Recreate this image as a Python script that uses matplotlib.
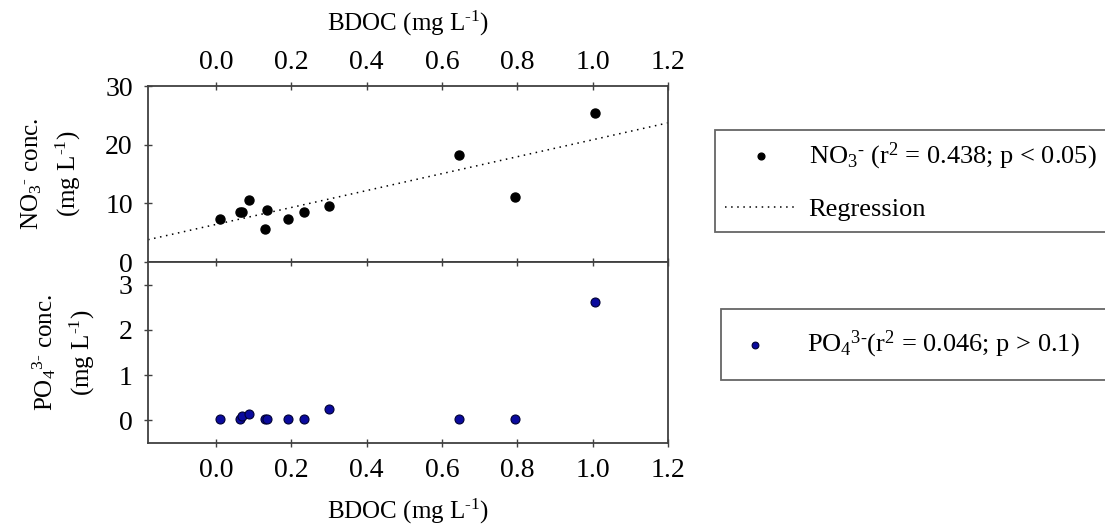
import numpy as np
import matplotlib
matplotlib.use("Agg")
import matplotlib.pyplot as plt

plt.rcParams["font.family"] = ["Liberation Serif", "DejaVu Serif"]
plt.rcParams["mathtext.fontset"] = "custom"
plt.rcParams["mathtext.rm"] = "Liberation Serif"
plt.rcParams["mathtext.it"] = "Liberation Serif"
plt.rcParams["mathtext.default"] = "regular"

# Data (BDOC in mg/L)
bdoc = [0.012, 0.064, 0.068, 0.087, 0.129, 0.136, 0.191, 0.234, 0.299, 0.644, 0.793, 1.005]
no3 = [7.3, 8.6, 8.5, 10.6, 5.6, 8.8, 7.4, 8.5, 9.6, 18.3, 11.1, 25.4]
po4 = [0.02, 0.02, 0.09, 0.13, 0.02, 0.02, 0.02, 0.02, 0.26, 0.02, 0.02, 2.62]

xticks = [0.0, 0.2, 0.4, 0.6, 0.8, 1.0, 1.2]
no3_ticks = [0, 10, 20, 30]
po4_ticks = [0, 1, 2, 3]

HY = "\u2010"  # short hyphen used in the superscripts
no3_label = "NO$_3$$^{%s}$ (r$^2$ = 0.438; p < 0.05)" % HY
po4_label = "PO$_4$$^{3%s}$(r$^2$ = 0.046; p > 0.1)" % HY

XMIN, XMAX = -0.18, 1.2

fig = plt.figure(figsize=(11.05, 5.29), dpi=100)
ax1 = fig.add_axes([0.134, 0.5047, 0.4706, 0.3327])
ax2 = fig.add_axes([0.134, 0.1626, 0.4706, 0.3421], sharex=ax1)

edge = "#404040"
for ax in (ax1, ax2):
    for sp in ax.spines.values():
        sp.set_color(edge)
        sp.set_linewidth(1.3)
    ax.tick_params(direction="inout", length=6, width=1, color=edge,
                   labelsize=20, pad=8)

# NO3 panel
ax1.scatter(bdoc, no3, s=42, c="black", edgecolors="black", zorder=3,
            label=no3_label)
slope, icpt = np.polyfit(bdoc, no3, 1)
xr = np.array([XMIN, XMAX])
ax1.plot(xr, icpt + slope * xr, color="black", lw=1.1,
         linestyle=(0, (1, 3)), label="Regression")
ax1.set_xlim(XMIN, XMAX)
ax1.set_ylim(0, 30)
ax1.set_yticks(no3_ticks)
ax1.set_xticks(xticks)
ax1.xaxis.tick_top()
ax1.xaxis.set_label_position("top")
ax1.tick_params(axis="x", top=True, bottom=False, labeltop=True, labelbottom=False,
                pad=5)
ax1.xaxis.set_major_formatter(matplotlib.ticker.FormatStrFormatter("%.1f"))
ax1.set_xlabel("BDOC (mg L$^{%s1}$)" % HY, fontsize=18, labelpad=14)
ax1.set_ylabel("NO$_3$$^{%s}$ conc.\n(mg L$^{%s1}$)" % (HY, HY), fontsize=18,
               labelpad=16, linespacing=1.45)

# PO4 panel
ax2.scatter(bdoc, po4, s=42, c="#0a0a9e", edgecolors="#000033", linewidths=0.8,
            zorder=3, label=po4_label)
ax2.set_ylim(-0.5, 3.5)
ax2.set_yticks(po4_ticks)
ax2.tick_params(axis="x", top=True, bottom=True, labelbottom=True, labeltop=False)
ax2.set_xlabel("BDOC (mg L$^{%s1}$)" % HY, fontsize=18, labelpad=10)
ax2.set_ylabel("PO$_4$$^{3%s}$ conc.\n(mg L$^{%s1}$)" % (HY, HY), fontsize=18,
               labelpad=16, linespacing=1.45)
fig.align_ylabels([ax1, ax2])

h1, l1 = ax1.get_legend_handles_labels()
leg1 = fig.legend(h1, l1, loc="upper left", bbox_to_anchor=(0.647, 0.555, 0.5, 0.2),
                  mode="expand", fontsize=19, frameon=True, fancybox=False,
                  edgecolor=edge, handlelength=2.7, handletextpad=0.45,
                  borderpad=0.4, labelspacing=1.0, borderaxespad=0,
                  markerscale=0.75)
leg1.get_frame().set_linewidth(1.3)

h2, l2 = ax2.get_legend_handles_labels()
leg2 = fig.legend(h2, l2, loc="upper left", bbox_to_anchor=(0.6525, 0.278, 0.5, 0.138),
                  mode="expand", fontsize=19, frameon=True, fancybox=False,
                  edgecolor=edge, handlelength=1.1, handletextpad=1.4,
                  borderpad=0.75, borderaxespad=0, markerscale=0.75)
leg2.get_frame().set_linewidth(1.3)

fig.savefig("out.png", dpi=100, facecolor="white")
